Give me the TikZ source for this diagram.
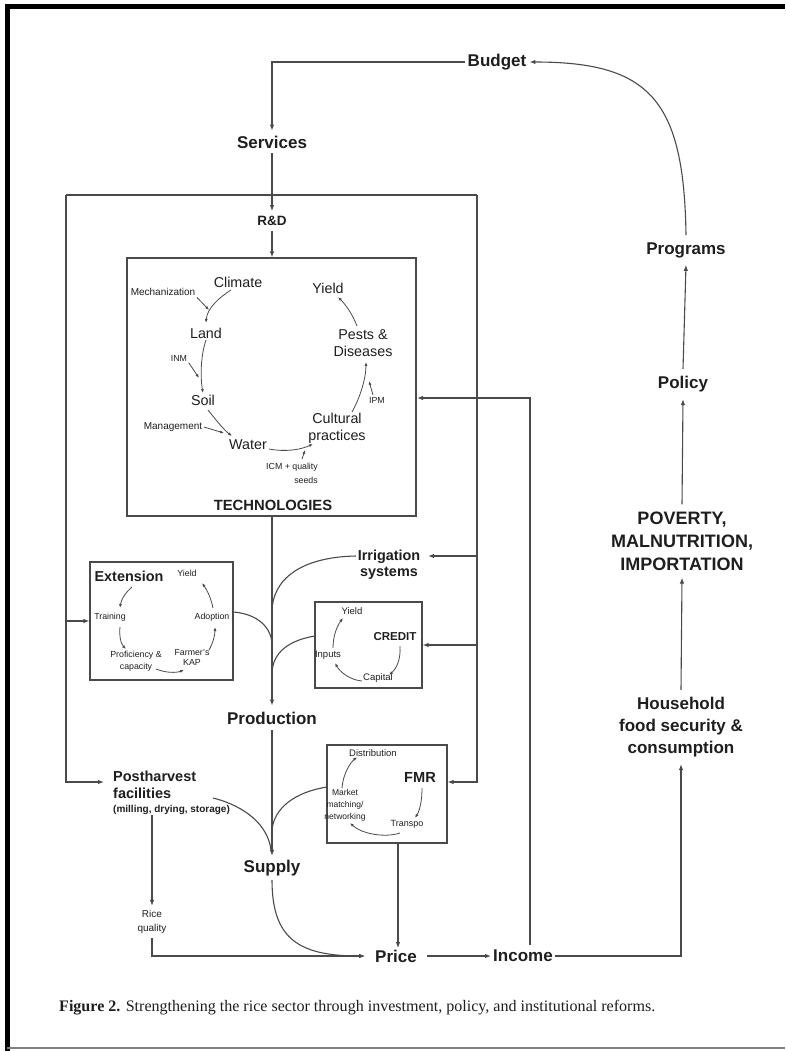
\documentclass[tikz,border=0pt]{standalone}
\usepackage{fontspec}
\usepackage{graphicx}
\setmainfont{Liberation Sans}
\newfontfamily\capfont{Liberation Serif}
\usetikzlibrary{arrows.meta}
\definecolor{lc}{HTML}{4A4A4A}
\definecolor{txt}{HTML}{1E1E1E}
\begin{document}
\begin{tikzpicture}[x=1pt,y=-1pt,
  lbl/.style={text=txt, inner sep=1.5pt, align=center},
  big/.style={lbl, font=\fontsize{17}{22}\selectfont\bfseries},
  pov/.style={lbl, font=\fontsize{18}{23}\selectfont\bfseries},
  mid/.style={lbl, font=\fontsize{14.5}{16.5}\selectfont\bfseries},
  circ/.style={lbl, font=\fontsize{14.3}{17}\selectfont},
  sm/.style={lbl, font=\fontsize{10}{12}\selectfont},
  tn/.style={lbl, font=\fontsize{8.8}{11}\selectfont},
  ln/.style={draw=lc, line width=1.1pt},
  arr/.style={ln, -{Latex[length=6pt,width=4.5pt]}},
  carr/.style={draw=lc, line width=0.8pt, -{Latex[length=4pt,width=3pt]}},
  boxs/.style={draw=lc, line width=1.2pt, inner sep=0pt},
]
\useasboundingbox (0,0) rectangle (785,1051);
% outer frame
\draw[line width=4.5pt, black] (7.5,1051) -- (7.5,6.5) -- (785,6.5);
\draw[line width=1.4pt, gray] (7,1048) -- (785,1048);

% top labels
\node[big, inner sep=3pt] (budget) at (497,62) {Budget};
\node[big, inner sep=5pt] (services) at (272,142) {Services};
\node[mid, font=\fontsize{13.5}{15}\selectfont\bfseries, inner sep=5pt] (rd) at (272,221) {R\&D};

% technologies box
\node[boxs, minimum width=289pt, minimum height=258pt] (tech) at (271.5,387) {};
\node[mid, font=\fontsize{14.8}{16}\selectfont\bfseries] (techlbl) at (273,505) {TECHNOLOGIES};
\node[circ] (climate) at (238,282) {Climate};
\node[circ] (land) at (206,333) {Land};
\node[circ] (soil) at (203,400) {Soil};
\node[circ] (water) at (248,445) {Water};
\node[circ] (cultural) at (337,428) {Cultural\\practices};
\node[circ] (pests) at (363,343) {Pests \&\\Diseases};
\node[circ] (yield) at (328,288) {Yield};
\node[sm] (mech) at (163,292) {Mechanization};
\node[tn] (inm) at (179,358) {INM};
\node[sm] (mgmt) at (173,427) {Management};
\node[tn] (ipm) at (377,400) {IPM};
\node[tn] (icm) at (292,467) {ICM + quality};
\node[tn] (seeds) at (306,480) {seeds};
\coordinate (mecht) at (209,310);
\coordinate (inmt) at (199,378);
\coordinate (mgmtt) at (224,433);
\coordinate (icmt) at (305,450);
\coordinate (ipmt) at (369,381);
\draw[carr] (231,290) .. controls (220,297) and (207,308) .. (206,323);
\draw[carr] (mech.south east) -- (mecht);
\draw[carr] (land.south) .. controls (201,355) and (200,375) .. (soil.north);
\draw[carr] (inm.south east) -- (inmt);
\draw[carr] (208,410) .. controls (216,420) and (224,430) .. (232,436);
\draw[carr] (mgmt.east) -- (mgmtt);
\draw[carr] (269,449) .. controls (285,452) and (300,450) .. (313,444);
\draw[carr] (302,459) -- (icmt);
\draw[carr] (352,412) .. controls (360,398) and (366,378) .. (366,362);
\draw[carr] (373,395) -- (ipmt);
\draw[carr] (357,326) .. controls (352,313) and (345,304) .. (338,297);

% extension box
\node[boxs, minimum width=143pt, minimum height=118pt] (extb) at (161.5,621) {};
\node[mid, font=\fontsize{14.4}{16}\selectfont\bfseries] (ext) at (129,576) {Extension};
\node[tn] (eyield) at (187,573) {Yield};
\node[tn] (training) at (110,617) {Training};
\node[tn] (adoption) at (212,617) {Adoption};
\node[tn, font=\fontsize{8.8}{12}\selectfont] (prof) at (136,661) {Proficiency \&\\capacity};
\node[tn, font=\fontsize{8.8}{10}\selectfont] (farm) at (192,657) {Farmer's\\KAP};
\draw[carr] (132,587) .. controls (125,593) and (121,600) .. (120,608);
\draw[carr] (120,627) .. controls (119,636) and (121,644) .. (126,649);
\draw[carr] (156,669) .. controls (166,673) and (176,673) .. (184,670);
\draw[carr] (209,650) .. controls (213,643) and (215,635) .. (215,627);
\draw[carr] (213,608) .. controls (211,598) and (207,590) .. (202,583);

% irrigation
\node[mid, font=\fontsize{14.4}{16.5}\selectfont\bfseries] (irr) at (389,565) {Irrigation\\systems};

% credit box
\node[boxs, minimum width=107pt, minimum height=86pt] (credb) at (368.5,645) {};
\node[mid, font=\fontsize{11.5}{13}\selectfont\bfseries] (credit) at (395,637) {CREDIT};
\node[tn, font=\fontsize{9.5}{11}\selectfont] (cyield) at (352,611) {Yield};
\node[tn, font=\fontsize{9.5}{11}\selectfont] (inputs) at (328,655) {Inputs};
\node[tn, font=\fontsize{9.5}{11}\selectfont] (capital) at (378,678) {Capital};
\draw[carr] (400,646) .. controls (401,660) and (396,669) .. (389,675);
\draw[carr] (362,681) .. controls (350,680) and (340,672) .. (335,663);
\draw[carr] (333,648) .. controls (333,636) and (337,626) .. (343,618);

% production / supply
\node[big, inner sep=6pt] (production) at (272,718) {Production};
\node[big, inner sep=4pt] (supply) at (272,868) {Supply};

% postharvest
\node[mid, anchor=west, inner sep=0pt] (post1) at (113,776) {Postharvest};
\node[mid, anchor=west, inner sep=0pt] (post2) at (113,793) {facilities};
\node[lbl, font=\fontsize{10}{12}\selectfont\bfseries, anchor=west, inner sep=0pt] (post3) at (113,810) {(milling, drying, storage)};
\node[sm, font=\fontsize{10}{14.5}\selectfont, inner sep=4pt] (rice) at (152,922) {Rice\\quality};

% FMR box
\node[boxs, minimum width=120pt, minimum height=98pt] (fmrb) at (387,794) {};
\node[mid, font=\fontsize{14.6}{16}\selectfont\bfseries] (fmr) at (420,777) {FMR};
\node[tn, font=\fontsize{9.5}{11}\selectfont] (dist) at (373,753) {Distribution};
\node[tn, font=\fontsize{8.5}{12}\selectfont] (market) at (345,805) {Market\\matching/\\networking};
\node[tn, font=\fontsize{9}{11}\selectfont] (transpo) at (407,824) {Transpo};
\draw[carr] (422,788) .. controls (422,800) and (420,810) .. (415,818);
\draw[carr] (400,833) .. controls (385,838) and (362,834) .. (350,823);
\draw[carr] (342,788) .. controls (343,775) and (349,764) .. (357,757);

% price / income
\node[big, inner xsep=10pt] (price) at (396,956) {Price};
\node[big, inner sep=2pt] (income) at (523,956) {Income};

% right column
\node[big, inner sep=7pt] (household) at (681,727) {Household\\food security \&\\consumption};
\node[pov, inner sep=7pt] (poverty) at (682,541) {POVERTY,\\MALNUTRITION,\\IMPORTATION};
\node[big, inner sep=7pt] (policy) at (683,384) {Policy};
\node[big, inner sep=7pt] (programs) at (686,250) {Programs};

% caption
\node[anchor=west, inner sep=0pt, text=txt] (cap) at (59,1008) {\resizebox{596pt}{!}{\capfont\fontsize{13}{15}\selectfont\textbf{Figure 2.} Strengthening the rice sector through investment, policy, and institutional reforms.}};

% coordinates of the large bracket
\coordinate (TL) at (66,195);
\coordinate (TR) at (477,195);
\coordinate (BL) at (66,782);
\coordinate (BR) at (477,782);
\coordinate (postin) at (104,782);
\coordinate (irrin) at (428,556);
\coordinate (irrout) at (356,556);
\coordinate (extout) at (233.5,612);
\coordinate (credout) at (315,636);
\coordinate (postout) at (213,798);
\coordinate (fmrout) at (327,787);
\coordinate (incup) at (530,945);
\coordinate (ipmin) at (417,398);

% connectors
\draw[arr] (budget.west) -| (services.north);
\draw[arr] (services.south) -- (rd.north);
\draw[arr] (rd.south) -- (tech.north -| rd.south);
\draw[ln] (TL) -- (TR);
\draw[arr] (TR) -- (BR) -- (fmrb.east |- BR);
\draw[arr] (TL) -- (BL) -- (postin);
\draw[arr] (TR |- irrin) -- (irrin);
\draw[arr] (TR |- credb.east) -- (credb.east);
\draw[arr] (TL |- extb.west) -- (extb.west);
\draw[arr] (tech.south -| production.north) -- (production.north);
\draw[arr] (production.south) -- (supply.north);
\draw[ln] (extout) .. controls (258,614) and (272,628) .. (272,645);
\draw[ln] (irrout) .. controls (300,557) and (272,580) .. (272,612);
\draw[ln] (credout) .. controls (290,640) and (272,652) .. (272,674);
\draw[ln] (postout) .. controls (245,806) and (268,825) .. (271,850);
\draw[ln] (fmrout) .. controls (295,792) and (274,808) .. (272,830);
\draw[arr] (rice.north |- post3.south) -- (rice.north);
\draw[arr] (rice.south) |- (price.west);
\draw[arr] (supply.south) .. controls (272,940) and (300,956) .. (price.west);
\draw[arr] (fmrb.south -| 398,0) -- (price.north -| 398,0);
\draw[arr] (price.east) -- (income.west);
\draw[arr] (incup) |- (ipmin);
\draw[arr] (income.east) -| (household.south);
\draw[arr] (household.north) -- (poverty.south);
\draw[arr] (poverty.north) -- (policy.south);
\draw[arr] (policy.north) -- (programs.south);
\draw[arr] (programs.north) .. controls (684,100) and (650,62) .. (budget.east);
\end{tikzpicture}
\end{document}
